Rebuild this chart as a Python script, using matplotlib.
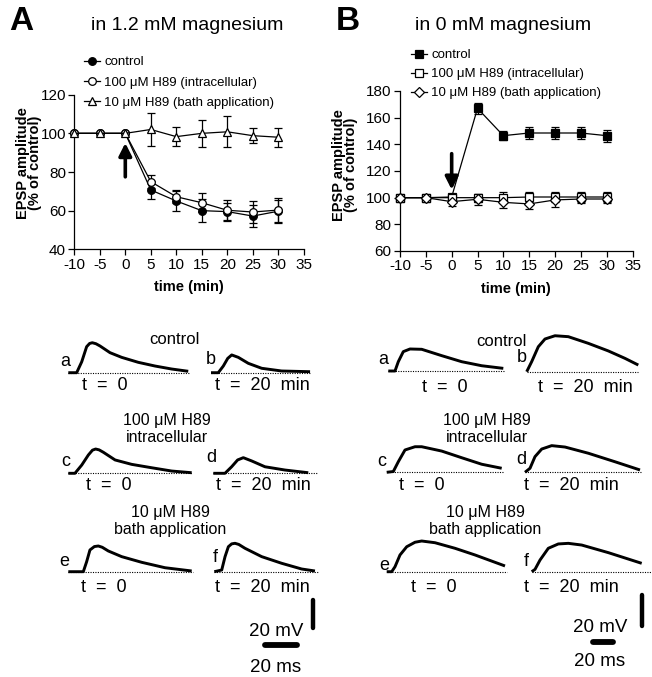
import matplotlib
matplotlib.use("Agg")
import matplotlib.pyplot as plt
from matplotlib.transforms import Affine2D

plt.rcParams['font.family'] = ['Liberation Sans', 'DejaVu Sans']
plt.rcParams['axes.unicode_minus'] = False

W, H = 652, 677

# ---- time course data (time in min, EPSP amplitude in % of control)
time_min = [-10, -5, 0, 5, 10, 15, 20, 25, 30]

mg_ctrl = [100, 100, 100, 70.7, 65, 60, 59.5, 57.2, 59.7]
mg_ctrl_err = [0, 0, 0, 4.5, 5, 6, 4.5, 5.5, 6]
mg_intra = [100, 100, 100, 75, 67.2, 64.1, 60.2, 59.3, 60.3]
mg_intra_err = [0, 0, 0, 3.5, 3.3, 5, 5.5, 5.5, 6]
mg_bath = [100, 100, 100, 102, 98.3, 100, 100.8, 98.8, 98]
mg_bath_err = [0, 0, 0, 8.5, 5, 7, 8, 4, 5]

nomg_ctrl = [100, 100, 100.5, 167, 146.5, 148.5, 148.5, 148.5, 146.5]
nomg_ctrl_err = [0, 0, 2, 4, 3.5, 4.5, 4.5, 4.5, 4.5]
nomg_intra = [100, 100, 100, 100, 100, 100.5, 100.5, 100.5, 100.5]
nomg_intra_err = [0, 0, 0, 3, 4, 3.5, 3.5, 3.5, 3.5]
nomg_bath = [100, 100, 97, 98.8, 96.5, 95.3, 98.3, 99, 99]
nomg_bath_err = [0, 0, 3, 4, 4, 3.5, 5, 3, 3]

legend_labels = ["control", "100 \u03bcM H89 (intracellular)", "10 \u03bcM H89 (bath application)"]

# ---- example EPSP traces (ms, mV above baseline)
A_a_ms = [0, 5.3, 8.5, 11.6, 13.5, 15.2, 17.5, 20.1, 26.4, 33.8, 44.3, 54.9, 65.4, 75.9]
A_a_mv = [0, 0, 7.7, 18.3, 20.6, 21.1, 20.4, 18.8, 14.1, 10.8, 7.3, 4.7, 2.6, 1.0]
A_b_ms = [0, 4.6, 7.8, 10.6, 13.1, 17.3, 23.6, 32.1, 44.7, 62.7]
A_b_mv = [0, 0, 4.7, 10.1, 12.5, 10.8, 6.6, 3.1, 1.2, 0.7]
A_c_ms = [0, 4.2, 8.5, 12.7, 15.3, 17.3, 19.5, 22.2, 29.6, 40.1, 52.8, 65.4, 78.1]
A_c_mv = [0, 0, 5.8, 12.9, 16.3, 17.1, 16.5, 14.8, 9.4, 6.3, 3.9, 1.6, 0.4]
A_d_ms = [0, 7.4, 11.6, 15.4, 19, 24.3, 32.7, 45.4, 60.1]
A_d_mv = [0, 0, 4.6, 9.4, 11, 8.7, 4.6, 2.3, 0.4]
A_e_ms = [0, 9.5, 11.6, 13.7, 16.5, 19, 21.5, 25.3, 33.8, 46.5, 61.2, 78.1]
A_e_mv = [0, 0, 7, 15.3, 17.7, 18.1, 17.2, 14.6, 10.6, 6.6, 2.8, 0.5]
A_f_ms = [0, 4.7, 6.8, 8.9, 11, 13.1, 15.5, 19.4, 30, 42.7, 55.3, 63.7]
A_f_mv = [0, 1.2, 10.6, 17.6, 19.6, 20, 19.2, 16.5, 10.6, 5.9, 1.9, 0.5]
A_sweep_ms = [77, 63, 78, 66, 79, 66]

B_a_ms = [0, 6.7, 10, 15, 21.7, 33.4, 53.4, 73.4, 93.4, 115]
B_a_mv = [0, 0, 6, 12.5, 14.2, 14, 9.9, 6, 3.4, 1.7]
B_b_ms = [0, 5, 11.6, 18.3, 28.3, 41.6, 61.6, 81.6, 98.3, 111.6]
B_b_mv = [0, 6.5, 16.1, 21.1, 23.2, 22.6, 18.3, 13.4, 8.6, 4.3]
B_c_ms = [0, 6.6, 11.6, 18.3, 28.3, 35, 55, 75, 95, 115]
B_c_mv = [0, 0.5, 6.8, 14.4, 16.5, 16.5, 13.7, 9.4, 5.2, 2.6]
B_d_ms = [0, 5, 10, 16.7, 26.7, 40, 63.3, 90, 115]
B_d_mv = [0, 2.6, 10.1, 15, 17.2, 16.3, 12.3, 6.8, 1.5]
B_e_ms = [0, 5, 8.3, 13.3, 20, 28.3, 35, 48.3, 68.3, 88.3, 118.3]
B_e_mv = [0, 0, 3.2, 10.8, 16.1, 19, 19.8, 18.7, 15.1, 10.8, 3.7]
B_f_ms = [0, 3.3, 8.3, 16.6, 26.6, 36.6, 50, 76.6, 110]
B_f_mv = [0, 1.5, 7.5, 15.1, 17.9, 18.3, 17.2, 12.3, 5.4]
B_sweep_ms = [117, 111, 116, 117, 120, 120]

trace_letters = ["a", "b", "c", "d", "e", "f"]
time_labels = ["t  =  0", "t  =  20  min"]
group_labels = ["control", "100 \u03bcM H89\nintracellular", "10 \u03bcM H89\nbath application"]

fig = plt.figure(figsize=(W / 100, H / 100), dpi=100)
ov = fig.add_axes([0, 0, 1, 1])
ov.set_xlim(0, W)
ov.set_ylim(H, 0)
ov.axis("off")


def px_axes(l, t, r, b):
    return fig.add_axes([l / W, 1 - b / H, (r - l) / W, (b - t) / H])


def style(ax, ylim, yticks):
    ax.set_xlim(-10, 35)
    ax.set_ylim(*ylim)
    ax.set_xticks(range(-10, 40, 5))
    ax.set_yticks(yticks)
    for s in ["top", "right"]:
        ax.spines[s].set_visible(False)
    for s in ["left", "bottom"]:
        ax.spines[s].set_linewidth(0.9)
    ax.tick_params(direction="out", length=4, width=0.9, labelsize=11, pad=2)
    ax.set_xlabel("time (min)", fontsize=10.5, fontweight="bold", labelpad=6)
    ax.set_ylabel("EPSP amplitude\n(% of control)", fontsize=10.5, fontweight="bold", linespacing=0.85)


def series(ax, y, err, marker, face, label):
    ax.errorbar(time_min, y, yerr=err, fmt="none", ecolor="k", elinewidth=0.9, capsize=3, capthick=0.9, zorder=2)
    ln, = ax.plot(time_min, y, color="k", lw=0.9, marker=marker, ms=5.5, mfc=face, mec="k", mew=0.9,
                  label=label, zorder=3, clip_on=False)
    return ln


# ---- panel A
axA = px_axes(74.3, 94.7, 303.8, 249.3)
style(axA, (40, 120), range(40, 140, 20))
hA = [series(axA, mg_ctrl, mg_ctrl_err, "o", "k", legend_labels[0]),
      series(axA, mg_intra, mg_intra_err, "o", "w", legend_labels[1]),
      series(axA, mg_bath, mg_bath_err, "^", "w", legend_labels[2])]
axA.annotate("", xy=(0, 95), xytext=(0, 77.5),
             arrowprops=dict(arrowstyle="-|>,head_width=0.38,head_length=0.75", lw=2.6, color="k", shrinkA=0, shrinkB=0))
axA.yaxis.set_label_coords(-0.14, 0.56)
axA.legend(handles=hA, loc="upper left", bbox_to_anchor=(84 / W, 1 - 56 / H), bbox_transform=fig.transFigure,
           frameon=False, fontsize=9.5, handlelength=1.2, handletextpad=0.35, labelspacing=0.62,
           borderpad=0, borderaxespad=0)

# ---- panel B
axB = px_axes(400, 91, 632.5, 251)
style(axB, (60, 180), range(60, 200, 20))
hB = [series(axB, nomg_ctrl, nomg_ctrl_err, "s", "k", legend_labels[0]),
      series(axB, nomg_intra, nomg_intra_err, "s", "w", legend_labels[1]),
      series(axB, nomg_bath, nomg_bath_err, "D", "w", legend_labels[2])]
axB.annotate("", xy=(0, 106), xytext=(0, 133),
             arrowprops=dict(arrowstyle="-|>,head_width=0.38,head_length=0.75", lw=2.6, color="k", shrinkA=0, shrinkB=0))
axB.yaxis.set_label_coords(-0.18, 0.54)
axB.legend(handles=hB, loc="upper left", bbox_to_anchor=(411 / W, 1 - 49 / H), bbox_transform=fig.transFigure,
           frameon=False, fontsize=9.5, handlelength=1.2, handletextpad=0.35, labelspacing=0.52,
           borderpad=0, borderaxespad=0)

# ---- headings
ov.text(9, 21, "A", fontsize=24, fontweight="bold", va="center", ha="left")
ov.text(336, 21, "B", fontsize=24, fontweight="bold", va="center", ha="left")
ov.text(187, 26, "in 1.2 mM magnesium", fontsize=14, ha="center", va="center")
ov.text(503, 26, "in 0 mM magnesium", fontsize=14, ha="center", va="center")


# ---- traces
def trace(t, v, sweep, x0, y0, sx, sy):
    tr = Affine2D().scale(sx, -sy).translate(x0, y0) + ov.transData
    ov.plot([0, sweep], [0, 0], transform=tr, color="k", lw=0.8, ls=(0, (1, 1.2)))
    ov.plot(t, v, transform=tr, color="k", lw=2.1, solid_joinstyle="round", solid_capstyle="butt")


def scalebar(x_v, y_v, x_h, y_h, sx, sy):
    tv = Affine2D().scale(sx, -sy).translate(x_v, y_v) + ov.transData
    ov.plot([0, 0], [0, 20], transform=tv, color="k", lw=3.2, solid_capstyle="round")
    th = Affine2D().scale(sx, -sy).translate(x_h, y_h) + ov.transData
    ov.plot([0, 20], [0, 0], transform=th, color="k", lw=4.2, solid_capstyle="round")


# panel A (1.58 px per ms, 1.42 px per mV)
sxA, syA = 1.58, 1.42
A_traces = [(A_a_ms, A_a_mv), (A_b_ms, A_b_mv), (A_c_ms, A_c_mv), (A_d_ms, A_d_mv), (A_e_ms, A_e_mv), (A_f_ms, A_f_mv)]
A_origin = [(68.3, 372.7), (211, 372.7), (68.3, 473.3), (213.3, 473.3), (68.3, 571.7), (214.3, 571.7)]
A_letter_pos = [(65, 362), (211, 360), (66, 461), (211, 458), (64, 561), (215, 558)]
for (t, v), sw, (x0, y0), (lx, ly), let in zip(A_traces, A_sweep_ms, A_origin, A_letter_pos, trace_letters):
    trace(t, v, sw, x0, y0, sxA, syA)
    ov.text(lx, ly, let, fontsize=13, ha="center", va="center")
for y, (x0, x1) in zip([386, 486, 588], [(105, 262), (109, 263), (104, 262)]):
    ov.text(x0, y, time_labels[0], fontsize=13, ha="center", va="center")
    ov.text(x1, y, time_labels[1], fontsize=13, ha="center", va="center")
ov.text(174, 339, group_labels[0], fontsize=12, ha="center", va="center")
ov.text(167, 429, group_labels[1], fontsize=11.5, ha="center", va="center", linespacing=1.2)
ov.text(170, 521, group_labels[2], fontsize=11.5, ha="center", va="center", linespacing=1.2)
scalebar(313, 628, 265, 645, sxA, syA)
ov.text(276, 631, "20 mV", fontsize=13.5, ha="center", va="center")
ov.text(276, 667, "20 ms", fontsize=13.5, ha="center", va="center")

# panel B (1.0 px per ms, 1.55 px per mV)
sxB, syB = 1.0, 1.55
B_traces = [(B_a_ms, B_a_mv), (B_b_ms, B_b_mv), (B_c_ms, B_c_mv), (B_d_ms, B_d_mv), (B_e_ms, B_e_mv), (B_f_ms, B_f_mv)]
B_origin = [(388.3, 371), (526.7, 371.7), (386.7, 472.3), (525, 472.3), (386.7, 571.7), (531.7, 571.7)]
B_letter_pos = [(383, 360), (522, 357), (382, 462), (521, 459), (384, 565), (526, 561)]
for (t, v), sw, (x0, y0), (lx, ly), let in zip(B_traces, B_sweep_ms, B_origin, B_letter_pos, trace_letters):
    trace(t, v, sw, x0, y0, sxB, syB)
    ov.text(lx, ly, let, fontsize=13, ha="center", va="center")
for y, (x0, x1) in zip([388, 486, 588], [(445, 585), (422, 571), (434, 571)]):
    ov.text(x0, y, time_labels[0], fontsize=13, ha="center", va="center")
    ov.text(x1, y, time_labels[1], fontsize=13, ha="center", va="center")
ov.text(501, 341, group_labels[0], fontsize=12, ha="center", va="center")
ov.text(487, 429, group_labels[1], fontsize=11.5, ha="center", va="center", linespacing=1.2)
ov.text(485, 521, group_labels[2], fontsize=11.5, ha="center", va="center", linespacing=1.2)
scalebar(641.7, 626, 593, 642, sxB, syB)
ov.text(600, 627, "20 mV", fontsize=13.5, ha="center", va="center")
ov.text(600, 662, "20 ms", fontsize=13.5, ha="center", va="center")

fig.savefig("out.png", dpi=100)
